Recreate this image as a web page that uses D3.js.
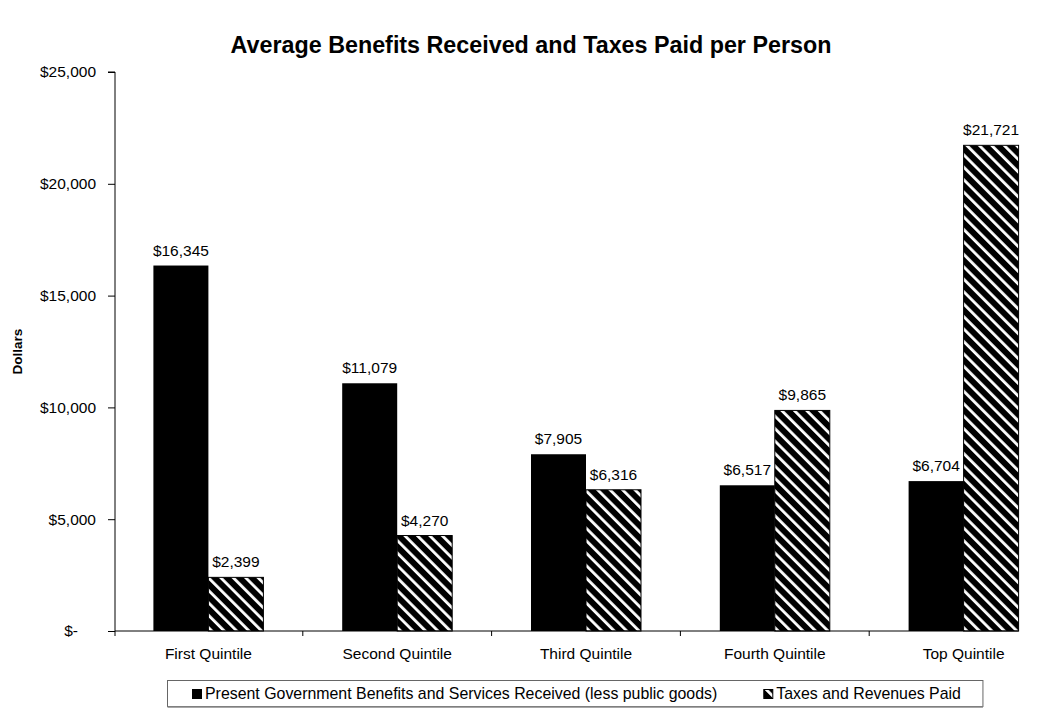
<!DOCTYPE html>
<html>
<head>
<meta charset="utf-8">
<script src="https://cdn.jsdelivr.net/npm/d3@7"></script>
<style>
  html, body { margin: 0; padding: 0; background: #fff; }
  svg { display: block; font-family: "Liberation Sans", Arial, sans-serif; }
</style>
</head>
<body>
<svg id="chart" width="1047" height="710"></svg>
<script>
// Per-person averages by income quintile
const categories = ["First Quintile", "Second Quintile", "Third Quintile", "Fourth Quintile", "Top Quintile"];
const benefits = [16345, 11079, 7905, 6517, 6704];
const taxes = [2399, 4270, 6316, 9865, 21721];
const seriesNames = ["Present Government Benefits and Services Received (less public goods)", "Taxes and Revenues Paid"];
const yTicks = [0, 5000, 10000, 15000, 20000, 25000];
const yTickLabels = ["$-", "$5,000", "$10,000", "$15,000", "$20,000", "$25,000"];

const svg = d3.select("#chart");
const plot = { left: 115, right: 1058, top: 72, bottom: 631 };
const labelSize = 15.5;

// Diagonal stripe fill for the taxes series
const defs = svg.append("defs");
const pat = defs.append("pattern")
  .attr("id", "stripes")
  .attr("patternUnits", "userSpaceOnUse")
  .attr("width", 8.8).attr("height", 8.8)
  .attr("patternTransform", "rotate(-45)");
pat.append("rect").attr("width", 8.8).attr("height", 8.8).attr("fill", "#000");
pat.append("rect").attr("x", 0).attr("width", 2.8).attr("height", 8.8).attr("fill", "#fff");

const x = d3.scaleBand().domain(categories).range([plot.left - 1, plot.right]).paddingInner(0).paddingOuter(0);
const inner = d3.scaleBand().domain([0, 1]).range([x.bandwidth() / 2 - 55, x.bandwidth() / 2 + 55]);
const y = d3.scaleLinear().domain([0, 25000]).range([plot.bottom, plot.top]);

// Title
svg.append("text")
  .attr("x", 531).attr("y", 53)
  .attr("text-anchor", "middle")
  .attr("font-size", 23.3).attr("font-weight", "bold")
  .text("Average Benefits Received and Taxes Paid per Person");

// Y axis
const yAxis = svg.append("g")
  .attr("transform", `translate(${plot.left},0)`)
  .call(d3.axisLeft(y).tickValues(yTicks).tickSize(7).tickPadding(12)
    .tickFormat((d, i) => yTickLabels[i]));
yAxis.select(".domain").attr("stroke", "#000").attr("d", `M-7,${plot.top}H0V${plot.bottom + 5}`);
yAxis.selectAll(".tick line").attr("stroke", "#000");
yAxis.selectAll(".tick text")
  .attr("font-size", labelSize).attr("font-family", "Liberation Sans, Arial, sans-serif").attr("fill", "#000")
  .attr("dx", d => d === 0 ? -18 : 0);

// Y axis title
svg.append("text")
  .attr("transform", `translate(22,${(plot.top + plot.bottom) / 2}) rotate(-90)`)
  .attr("text-anchor", "middle")
  .attr("font-size", 13.5).attr("font-weight", "bold")
  .text("Dollars");

// Bars
const groups = svg.append("g").selectAll("g")
  .data(categories)
  .join("g")
  .attr("transform", d => `translate(${x(d)},0)`);

groups.append("rect")
  .attr("x", inner(0)).attr("width", inner.bandwidth())
  .attr("y", (d, i) => y(benefits[i]))
  .attr("height", (d, i) => y(0) - y(benefits[i]))
  .attr("fill", "#000");

groups.append("rect")
  .attr("x", inner(1)).attr("width", inner.bandwidth())
  .attr("y", (d, i) => y(taxes[i]))
  .attr("height", (d, i) => y(0) - y(taxes[i]))
  .attr("fill", "url(#stripes)")
  .attr("stroke", "#000").attr("stroke-width", 1);

const fmt = d3.format(",");
groups.append("text")
  .attr("x", inner(0) + inner.bandwidth() / 2)
  .attr("y", (d, i) => y(benefits[i]) - 10)
  .attr("text-anchor", "middle").attr("font-size", labelSize)
  .text((d, i) => "$" + fmt(benefits[i]));
groups.append("text")
  .attr("x", inner(1) + inner.bandwidth() / 2)
  .attr("y", (d, i) => y(taxes[i]) - 10)
  .attr("text-anchor", "middle").attr("font-size", labelSize)
  .text((d, i) => "$" + fmt(taxes[i]));

// X axis
const lastEnd = x(categories[categories.length - 1]) + inner(1) + inner.bandwidth();
const xAxis = svg.append("g")
  .attr("transform", `translate(0,${plot.bottom})`)
  .call(d3.axisBottom(x).tickSize(0).tickPadding(17));
xAxis.select(".domain").attr("stroke", "#000").attr("d", `M${plot.left},0H${lastEnd}`);
xAxis.selectAll(".tick text").attr("font-size", labelSize).attr("font-family", "Liberation Sans, Arial, sans-serif").attr("fill", "#000");
// Separators between categories
svg.append("g").selectAll("line")
  .data(categories.slice(1))
  .join("line")
  .attr("x1", d => x(d)).attr("x2", d => x(d))
  .attr("y1", plot.bottom).attr("y2", plot.bottom + 5)
  .attr("stroke", "#000");

// Legend: two entries laid out left to right inside a framed box
const legendSize = 15.9;
const legend = svg.append("g");
const box = legend.append("rect")
  .attr("y", 680.5).attr("height", 26)
  .attr("fill", "#fff").attr("stroke", "#666").attr("stroke-width", 1);
const shadow = legend.append("line")
  .attr("y1", 707).attr("y2", 707)
  .attr("stroke", "#888").attr("stroke-width", 1.5);
const boxLeft = 167.5;
let cursor = 192;
seriesNames.forEach((name, i) => {
  legend.append("rect")
    .attr("x", cursor + 0.5).attr("y", 689.5).attr("width", 9).attr("height", 9)
    .attr("fill", i === 0 ? "#000" : "url(#stripes)").attr("stroke", "#000");
  const t = legend.append("text")
    .attr("x", cursor + 13).attr("y", 699)
    .attr("font-size", legendSize)
    .text(name);
  cursor += 13 + t.node().getComputedTextLength() + 46;
});
const boxRight = cursor - 46 + 22;
box.attr("x", boxLeft).attr("width", boxRight - boxLeft);
shadow.attr("x1", boxLeft).attr("x2", boxRight);
</script>
</body>
</html>
